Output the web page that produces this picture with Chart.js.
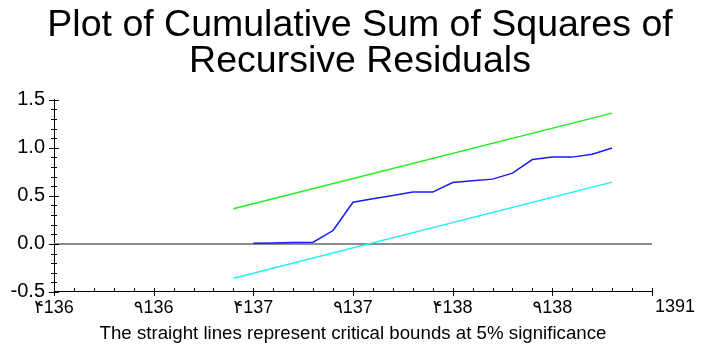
<!DOCTYPE html>
<html>
<head>
<meta charset="utf-8">
<script src="https://cdn.jsdelivr.net/npm/chart.js@4.4.1/dist/chart.umd.min.js"></script>
<style>
  html, body { margin: 0; padding: 0; background: #fff; }
  #wrap { width: 701px; height: 346px; }
</style>
</head>
<body>
<div id="wrap"><canvas id="chart" width="701" height="346"></canvas></div>
<script>
// ==================== Data ====================
const titleLines = ['Plot of Cumulative Sum of Squares of', 'Recursive Residuals'];
const footNote = 'The straight lines represent critical bounds at 5% significance';

// x axis runs in observation steps, one minor tick per step
const xMajorLabels = ['۴136', '۹136', '۴137', '۹137', '۴138', '۹138'];
const xEndLabel = '1391';

const obsIndex = [10, 11, 12, 13, 14, 15, 16, 17, 18, 19, 20, 21, 22, 23, 24, 25, 26, 27, 28];
const cusumSq  = [0.007, 0.010, 0.014, 0.018, 0.139, 0.434, 0.469, 0.503, 0.539, 0.539,
                  0.639, 0.656, 0.674, 0.736, 0.878, 0.903, 0.903, 0.934, 0.997];

const boundIndex = [9, 28];
const upperBound = [0.365, 1.361];
const lowerBound = [-0.357, 0.643];

const zeroIndex = [0, 30];
const zeroLine = [0, 0];

const FONT = "'Liberation Sans', Arial, 'DejaVu Sans', sans-serif";

function toPoints(xs, ys) {
  return xs.map((x, i) => ({ x: x, y: ys[i] }));
}

// ==================== Tick marks + end label ====================
const tickMarks = {
  id: 'tickMarks',
  afterLayout(chart) {
    // title sits a bit right of the canvas centre in the original
    if (chart.titleBlock) chart.titleBlock.left = 19;
  },
  afterDraw(chart) {
    const ctx = chart.ctx;
    const xs = chart.scales.x, ys = chart.scales.y;
    const area = chart.chartArea;
    ctx.save();
    ctx.strokeStyle = '#000';
    ctx.lineWidth = 1;
    ctx.beginPath();
    xs.ticks.forEach(t => {
      const px = Math.round(xs.getPixelForValue(t.value)) + 0.5;
      const major = t.value % 5 === 0;
      ctx.moveTo(px, area.bottom - 4);
      ctx.lineTo(px, major ? area.bottom + 4 : area.bottom);
    });
    ys.ticks.forEach(t => {
      const py = Math.round(ys.getPixelForValue(t.value)) + 0.5;
      const major = Math.round(t.value * 10) % 5 === 0;
      const len = major ? 5 : 3;
      ctx.moveTo(area.left - len, py);
      ctx.lineTo(area.left + len, py);
    });
    ctx.stroke();

    ctx.fillStyle = '#000';
    ctx.font = '18px ' + FONT;
    ctx.textAlign = 'center';
    ctx.textBaseline = 'top';
    ctx.fillText(xEndLabel, xs.getPixelForValue(30) + 23, area.bottom + 6);
    ctx.restore();
  }
};

// ==================== Chart ====================
new Chart(document.getElementById('chart').getContext('2d'), {
  type: 'line',
  data: {
    datasets: [
      {
        label: 'CUSUM of squares',
        data: toPoints(obsIndex, cusumSq),
        borderColor: '#1a1af2',
        borderWidth: 1.5,
        pointRadius: 0,
        tension: 0
      },
      {
        label: 'Upper bound',
        data: toPoints(boundIndex, upperBound),
        borderColor: '#22ee22',
        borderWidth: 1.5,
        pointRadius: 0
      },
      {
        label: 'Lower bound',
        data: toPoints(boundIndex, lowerBound),
        borderColor: '#22f0f0',
        borderWidth: 1.5,
        pointRadius: 0
      },
      {
        label: 'Zero',
        data: toPoints(zeroIndex, zeroLine),
        borderColor: '#8c8c8c',
        borderWidth: 2,
        pointRadius: 0
      }
    ]
  },
  options: {
    responsive: false,
    animation: false,
    layout: { padding: 0 },
    plugins: {
      legend: { display: false },
      tooltip: { enabled: false },
      title: {
        display: true,
        text: titleLines,
        color: '#000',
        font: { family: FONT, size: 37.5, weight: 'normal', lineHeight: 0.97 },
        padding: { top: 7, bottom: 20 }
      },
      subtitle: {
        display: true,
        position: 'bottom',
        fullSize: false,
        text: footNote,
        color: '#000',
        font: { family: FONT, size: 18.7, weight: 'normal', lineHeight: 1.2 },
        padding: { top: 7, bottom: 0.6 }
      }
    },
    scales: {
      x: {
        type: 'linear',
        min: 0,
        max: 30,
        afterFit(scale) { scale.height = 24; },
        grid: { display: false, drawTicks: false },
        border: { display: true, color: '#000', width: 1 },
        ticks: {
          stepSize: 1,
          autoSkip: false,
          maxRotation: 0,
          padding: 5,
          color: '#000',
          font: { family: FONT, size: 18 },
          callback: v => (v % 5 === 0 && v < 30) ? xMajorLabels[v / 5] : ''
        }
      },
      y: {
        min: -0.5,
        max: 1.5,
        afterFit(scale) { scale.width = 54; },
        grid: { display: false, drawTicks: false },
        border: { display: true, color: '#000', width: 1 },
        ticks: {
          stepSize: 0.1,
          autoSkip: false,
          padding: 9,
          color: '#000',
          font: { family: FONT, size: 20 },
          callback: v => Math.round(v * 10) % 5 === 0 ? v.toFixed(1) : ''
        }
      },
      // empty right-hand gutter, keeps the plot off the right edge
      yGutter: {
        position: 'right',
        min: 0,
        max: 1,
        afterFit(scale) { scale.width = 49; },
        grid: { display: false, drawTicks: false },
        border: { display: false },
        ticks: { display: false }
      }
    }
  },
  plugins: [tickMarks]
});
</script>
</body>
</html>
